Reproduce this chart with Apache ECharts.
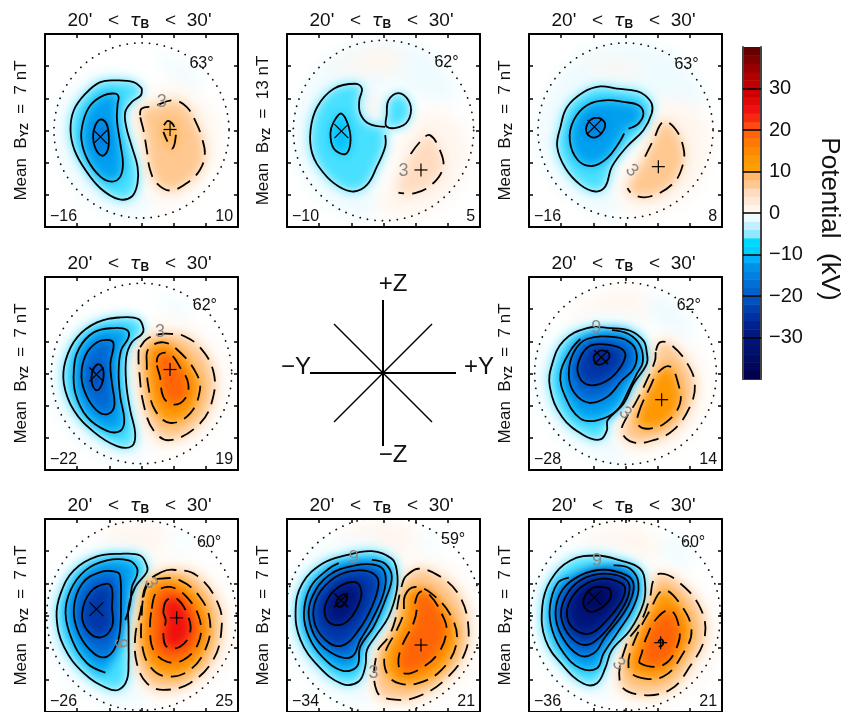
<!DOCTYPE html>
<html><head><meta charset="utf-8">
<style>html,body{margin:0;padding:0;background:#fff}#c{width:848px;height:712px}</style>
<script src="https://cdn.jsdelivr.net/npm/echarts@6/dist/echarts.min.js"></script>
</head><body><div id="c"></div>
<script>
const FONT = '"Liberation Sans"';
const titleText = "20'   <  {t|τ}{b|B}   <  30'";
const meanB = [7, 13, 7, 7, 7, 7, 7, 7];
const minLabels = [-16, -10, -16, -22, -28, -26, -34, -36];
const maxLabels = [10, 5, 8, 19, 14, 25, 21, 21];
const latLabels = [63, 62, 63, 62, 62, 60, 59, 60];
const latLabelAt = [[605,190],[605,187],[590,192],[615,193],[597,193],[628,185],[625,178],[610,185]];
const circleR = [264, 272, 264, 272, 274, 286, 296, 286];
const centers = [[424,391],[415,391],[406,391],[424,399],[406,399],[424,406],[415,406],[406,406]];
const minMarks = [[300,410],[288,393],[312,380],[288,402],[333,350],[288,387],[287,360],[312,352]];
const maxMarks = [[510,388],[528,510],[505,500],[510,387],[515,478],[530,413],[528,495],[512,488]];
const contourTags = [
  [['3',485,305,0]],
  [['3',475,512,0]],
  [['3',425,512,45]],
  [['3',480,275,0]],
  [['3',405,518,45],['9',318,262,0]],
  [['3',452,308,60],['9',360,490,90]],
  [['3',385,578,0],['9',325,232,0]],
  [['3',385,552,45],['9',320,243,0]]
];

const barColors = ['#00004f','#000659','#000c64','#00106e','#001478','#001880','#002090','#0030a0','#0040b0','#0050c0','#0060cc','#0070d8','#0080e0','#0090e8','#00b0f8','#00d0ff','#00d8ff','#90e8ff','#c0f0ff','#eefbff','#fff6ee','#ffe8d8','#ffdcc0','#ffc890','#ffb868','#ffa000','#ff9800','#ff8800','#ff7800','#ff6408','#ff4a10','#f82810','#f01010','#e00808','#d00000','#c00000','#b00000','#980000','#800000','#640000'];

// rings: v = level (kV), w = soft wash without a contour line, open = contour has a gap, p = x,y,x,y...
const p1 = [
 {v:-1,w:1,p:[465,175,520,170,590,230,610,285,570,270,500,210]},
 {v:-1,w:1,p:[430,270,400,230,340,215,270,230,205,285,170,370,175,460,220,550,290,620,370,650,440,640,450,590,430,510,410,440,395,370,420,310]},
 {v:1,w:1,p:[400,330,440,280,500,255,580,280,640,340,660,420,640,500,590,570,510,620,450,590,430,500,410,420]},
 {v:-3,p:[423,262,400,245,350,240,300,245,255,280,220,330,210,390,222,450,255,510,300,565,355,598,395,590,412,550,412,500,395,440,378,380,375,335,395,305,422,285,425,268]},
 {v:-9,p:[355,290,345,280,310,285,270,315,248,365,243,420,262,480,300,530,335,545,360,530,368,490,360,430,350,360,352,310]},
 {v:-15,p:[300,358,285,375,278,410,285,445,305,467,322,450,325,405,318,370]},
 {v:3,p:[420,345,425,325,460,318,520,300,560,320,590,370,605,410,615,460,600,510,560,550,510,572,470,550,450,510,440,450,430,390]},
 {v:9,open:1,p:[492,375,505,362,525,385,525,425,515,445,490,395]}
];
const p2 = [
 {v:-1,w:1,p:[145,400,170,290,240,190,330,130,430,125,540,150,620,240,640,300,560,300,480,260,420,240,400,300,420,370,440,440,400,530,380,650,300,640,210,570,160,490]},
 {v:1,w:1,p:[250,210,300,175,380,145,450,150,480,200,400,220,330,210]},
 {v:1,w:1,p:[430,530,470,420,530,340,590,330,660,390,670,460,640,560,560,630,440,650,400,620]},
 {v:3,w:1,p:[365,315,380,292,398,315,380,340]},
 {v:-3,open:1,p:[420,405,420,440,395,500,365,555,325,575,280,560,235,520,200,460,195,390,215,320,265,265,330,250,350,265,342,300,345,340,370,370,420,380]},
 {v:-3,p:[425,340,430,300,460,278,490,300,497,340,475,375,425,380]},
 {v:-9,p:[288,340,265,365,255,400,265,445,300,462,315,430,310,380]},
 {v:3,open:1,p:[497,462,530,420,555,405,585,450,595,500,565,550,510,580,460,578]}
];
const p3 = [
 {v:-1,w:1,p:[145,400,170,290,240,190,340,135,450,130,560,170,640,270,650,320,560,320,500,310,470,360,420,440,380,530,390,640,320,640,220,570,160,490]},
 {v:1,w:1,p:[385,530,440,450,510,310,590,310,655,370,660,440,620,560,520,630,430,640,390,600]},
 {v:1,w:1,p:[270,195,320,180,400,185,470,210,440,225,340,215]},
 {v:-3,p:[465,285,440,272,380,265,330,258,280,275,230,320,210,380,200,440,225,505,270,555,315,575,345,560,365,500,410,440,460,390,485,340,485,310]},
 {v:-9,open:1,p:[415,385,445,370,460,340,445,315,400,305,345,300,290,315,250,360,238,420,262,480,305,498,350,475,385,430,402,400]},
 {v:-15,p:[315,353,292,370,290,400,315,412,340,390,342,365]},
 {v:3,open:1,p:[465,470,490,420,520,365,555,385,580,440,580,490,550,550,480,590,430,585,412,565]}
];
const p4 = [
 {v:-1,w:1,p:[465,175,510,170,570,205,555,230,500,205]},
 {v:-1,w:1,p:[440,280,400,225,300,225,210,280,160,370,160,470,210,570,300,640,420,660,440,620,415,520,395,420,395,340]},
 {v:1,w:1,p:[400,330,440,260,520,240,620,290,670,380,670,480,620,570,520,630,440,610,420,520,400,430]},
 {v:-3,p:[430,265,415,235,360,230,290,245,230,290,195,360,190,430,220,510,280,575,350,618,395,618,405,580,390,510,378,430,378,350,395,305,425,280]},
 {v:-9,p:[385,290,380,268,340,262,280,275,235,325,220,390,225,460,260,530,320,572,360,572,372,540,360,470,355,400,362,330]},
 {v:-15,p:[340,310,325,298,290,305,255,345,243,410,260,470,295,515,325,520,342,495,335,430,330,370]},
 {v:-21,p:[290,372,275,395,275,430,290,450,305,430,310,395,302,375]},
 {v:3,p:[420,320,440,295,480,280,520,280,550,285,600,320,640,390,640,470,600,550,510,600,460,570,430,490,418,400,415,335]},
 {v:9,p:[440,370,445,325,490,305,540,335,590,400,600,450,570,520,510,548,465,510,445,440]},
 {v:15,p:[470,365,480,340,510,340,540,380,565,430,555,475,520,493,490,470,480,410]}
];
const p5 = [
 {v:-1,w:1,p:[460,170,530,170,600,240,610,300,530,270,470,220]},
 {v:1,w:1,p:[220,240,300,180,420,140,460,170,470,230,350,220]},
 {v:-1,w:1,p:[480,300,420,235,340,225,240,260,160,340,140,440,190,560,300,640,400,670,390,600,360,560,440,450,490,360]},
 {v:1,w:1,p:[380,560,450,450,490,310,530,280,620,340,650,430,620,550,540,620,440,640,390,620]},
 {v:-3,p:[470,335,460,300,420,270,360,262,290,262,220,300,185,370,178,440,215,530,280,585,330,598,350,570,352,540,400,490,430,430,470,370]},
 {v:-9,open:1,p:[365,268,415,280,450,315,458,365,440,400,420,440,380,510,320,540,270,535,225,470,210,400,240,330,270,295]},
 {v:-15,p:[290,295,250,335,235,400,250,455,295,487,350,470,395,420,430,385,440,345,425,310,380,290]},
 {v:-21,p:[300,315,270,350,262,395,285,430,330,430,375,400,405,350,395,325,350,312]},
 {v:-27,p:[325,333,310,350,322,372,350,360,357,340,340,330]},
 {v:3,p:[498,330,510,305,540,310,590,365,615,430,600,500,550,570,490,600,430,607,395,575,410,530,435,490,470,420,495,360]},
 {v:9,p:[445,520,480,440,505,395,540,378,565,430,570,490,530,545,480,565,445,555]}
];
const p6 = [
 {v:-1,w:1,p:[495,160,540,165,585,215,540,205]},
 {v:1,w:1,p:[300,155,400,125,490,135,500,175,440,230,330,190]},
 {v:-1,w:1,p:[450,260,410,205,320,195,220,240,150,330,140,440,170,540,250,630,340,670,420,680,430,620,400,520,395,400,415,320]},
 {v:1,w:1,p:[415,310,470,245,560,245,660,320,700,420,680,540,600,620,490,665,430,630,400,500,400,400]},
 {v:-3,p:[440,255,420,225,360,220,290,228,220,270,180,340,168,410,190,500,250,580,320,625,355,630,380,600,385,540,385,500,385,440,385,380,405,320,440,275]},
 {v:-9,open:1,p:[315,578,260,550,215,480,195,400,210,330,255,270,320,240,385,240,410,262,410,285,395,320,390,370,375,420]},
 {v:-15,p:[360,290,350,275,300,275,245,310,220,385,235,460,280,520,320,530,350,490,360,440,362,370]},
 {v:-21,p:[320,310,270,335,245,400,260,450,300,472,335,440,335,380,335,325]},
 {v:3,p:[485,275,520,268,590,285,655,370,665,450,640,540,570,610,490,630,440,610,410,550,405,470,420,400,440,310]},
 {v:9,p:[430,350,445,310,480,295,540,300,600,350,630,420,620,500,570,570,500,590,450,560,425,490,425,400]},
 {v:15,p:[455,385,470,335,510,320,560,350,600,420,595,490,550,540,500,545,460,510,450,450]},
 {v:21,p:[490,395,500,360,530,355,565,410,570,460,540,500,500,500,490,465,497,420]}
];
const p7 = [
 {v:-1,w:1,p:[510,165,550,165,585,210,550,220]},
 {v:1,w:1,p:[270,180,340,130,490,130,510,190,470,250,350,185]},
 {v:-1,w:1,p:[460,270,430,205,330,180,220,215,140,300,115,400,135,510,210,610,320,670,380,660,370,570,440,430,470,350]},
 {v:1,w:1,p:[380,580,430,450,460,310,510,240,610,260,690,370,700,500,640,610,520,680,400,680,370,630]},
 {v:-3,p:[455,270,440,235,380,212,300,225,230,250,170,310,150,390,165,480,220,560,290,612,340,605,360,560,365,510,390,470,430,410,455,330]},
 {v:-9,open:1,p:[380,238,420,250,440,290,420,360,385,440,345,500,335,560,290,572,230,530,190,470,175,400,195,320,250,265,280,248]},
 {v:-15,p:[420,280,395,255,330,255,250,285,200,350,190,410,215,480,270,525,320,530,345,480,380,420,415,340]},
 {v:-21,p:[385,280,340,270,270,290,215,350,205,420,240,480,290,497,340,450,380,380,400,310]},
 {v:-27,p:[325,305,280,320,245,360,240,410,270,435,310,420,345,360,345,320]},
 {v:-33,p:[295,342,272,365,280,380,298,370,305,350]},
 {v:3,p:[485,285,520,265,580,285,640,340,670,430,660,520,600,600,520,650,450,660,395,635,395,520,430,470,450,420,460,360,475,300]},
 {v:9,p:[480,345,510,320,560,340,620,410,635,490,590,570,520,610,460,610,425,580,420,520,455,450,475,400]},
 {v:15,p:[510,370,525,335,555,345,590,400,605,450,580,520,520,570,475,580,460,550,470,500,505,430,515,390]}
];
const p8 = [
 {v:-1,w:1,p:[500,170,560,175,610,240,590,265,520,220]},
 {v:1,w:1,p:[270,190,340,145,470,145,500,200,490,250,400,215]},
 {v:-1,w:1,p:[480,310,440,240,340,200,230,215,150,290,125,400,150,510,230,610,340,660,370,640,360,560,450,420]},
 {v:1,w:1,p:[370,570,460,420,490,290,520,260,620,320,680,420,670,530,590,630,470,680,390,660]},
 {v:-3,p:[465,310,450,265,390,240,320,225,240,240,180,300,155,380,165,480,220,560,280,612,320,610,345,565,365,510,420,450,460,370]},
 {v:-9,open:1,p:[370,255,420,265,445,310,430,380,380,460,340,520,320,565,270,565,220,520,185,450,178,380,200,310,235,292]},
 {v:-15,p:[430,310,410,285,340,268,270,285,215,330,195,400,215,470,265,525,310,520,345,470,400,400,425,350]},
 {v:-21,p:[410,300,340,280,270,300,225,350,212,410,240,470,285,495,330,470,380,410,415,345]},
 {v:-27,p:[395,310,340,295,280,315,240,360,230,410,255,450,300,460,350,420,390,370,405,330]},
 {v:-33,p:[350,322,310,322,285,345,280,375,300,395,330,385,360,355,360,330]},
 {v:3,p:[510,280,560,300,630,380,645,470,600,560,540,630,450,645,390,610,410,490,450,430,480,350,490,300]},
 {v:9,p:[440,590,520,590,580,520,605,450,570,370,520,330,480,390,430,490,415,560]},
 {v:15,p:[450,550,520,555,565,490,565,430,540,390,500,415,470,470,455,520]},
 {v:21,p:[505,485,515,478,520,490,510,500]}
];
const panels = [p1,p2,p3,p4,p5,p6,p7,p8];

const spokes = [[[-73,0],[73,0]],[[0,-73],[0,73]],[[-49,-49],[49,49]],[[-49,49],[49,-49]]];
const spokeLabels = [['+Z',10,89],['\u2212Z',10,-82],['\u2212Y',-87,6],['+Y',96,6]];

const gridX = [45, 287, 529], gridY = [34, 277, 519], gridW = 193, gridH = 193;
const panelCells = [[0,0],[1,0],[2,0],[0,1],[2,1],[0,2],[1,2],[2,2]];
const OFF = 3000;

function levelColor(v){
  const t = Math.max(0, Math.min(barColors.length-1, (v+40)/2-0.5));
  const i = Math.floor(t), f = t-i, a = barColors[i], b = barColors[Math.min(i+1,barColors.length-1)];
  const c = k => Math.round(parseInt(a.substr(k,2),16)*(1-f)+parseInt(b.substr(k,2),16)*f);
  return 'rgb('+c(1)+','+c(3)+','+c(5)+')';
}
function minus(n){ return String(n).replace('-','\u2212'); }

const grids=[],xAxes=[],yAxes=[],series=[],titles=[];
const axisBase = {type:'value',min:-291,max:291,interval:97,
  axisLine:{show:true,onZero:false,lineStyle:{color:'#000',width:2}},
  axisTick:{show:true,inside:true,length:4,lineStyle:{color:'#000',width:1.5}},
  axisLabel:{show:false},splitLine:{show:false},z:6};

panelCells.forEach((cell,k)=>{
  const L=gridX[cell[0]],T=gridY[cell[1]];
  grids.push({left:L,top:T,width:gridW,height:gridH});
  xAxes.push(Object.assign({},axisBase,{gridIndex:k,position:'bottom'}),Object.assign({},axisBase,{gridIndex:k,position:'top'}));
  yAxes.push(Object.assign({},axisBase,{gridIndex:k,position:'left',name:'Mean  B{s|YZ}  =  '+meanB[k]+' nT',nameLocation:'middle',nameRotate:90,nameGap:15,
      nameTextStyle:{fontFamily:FONT,fontSize:17,color:'#111',rich:{s:{fontFamily:FONT,fontSize:11,fontWeight:'bold',color:'#111',padding:[7,0,0,0]}}}}),
    Object.assign({},axisBase,{gridIndex:k,position:'right'}));
  titles.push({text:titleText,left:L+gridW/2-2,top:T-23,textAlign:'center',padding:0,
    textStyle:{fontFamily:FONT,fontSize:19,fontWeight:'normal',color:'#111',rich:{t:{fontFamily:'"DejaVu Sans"',fontSize:18,fontStyle:'italic',color:'#111'},b:{fontFamily:FONT,fontSize:12,fontWeight:'bold',color:'#111',padding:[8,0,0,0]}}}});

  const c=centers[k], ext=[minLabels[k],maxLabels[k]];
  const X=x=>x-c[0], Y=y=>c[1]-y;
  const rings=panels[k];
  const items=[];
  rings.forEach(r=>items.push({t:'fill',r}));
  rings.filter(r=>!r.w).forEach(r=>items.push({t:'line',r}));
  items.push({t:'circle'},{t:'mark',at:minMarks[k],cross:1},{t:'mark',at:maxMarks[k],cross:0});
  contourTags[k].forEach(g=>items.push({t:'tag',g}));
  items.push({t:'corner',text:minus(minLabels[k]),x:-276,y:-259,align:'left'},
             {t:'corner',text:String(maxLabels[k]),x:276,y:-259,align:'right'},
             {t:'corner',text:latLabels[k]+'\u00b0',x:X(latLabelAt[k][0]),y:Y(latLabelAt[k][1]),align:'center'});
  series.push({type:'custom',xAxisIndex:2*k,yAxisIndex:2*k,clip:true,silent:true,
    data:items.map((_,i)=>[i,0]),
    renderItem:(params,api)=>{
      const it=items[params.dataIndex];
      const pts=r=>{const o=[];for(let i=0;i<r.p.length;i+=2)o.push(api.coord([X(r.p[i]),Y(r.p[i+1])]));return o;};
      if(it.t==='fill'){
        const r=it.r;
        const pad=r.v<0?3:4;
        const target=r.w?r.v:Math.max(ext[0],Math.min(ext[1],r.v+Math.sign(r.v)*pad));
        return {type:'polygon',shape:{points:pts(r).map(q=>[q[0]-OFF,q[1]]),smooth:0.4},
          style:{fill:'#000',stroke:null,shadowColor:levelColor(target),shadowBlur:r.w?18:11,shadowOffsetX:OFF}};
      }
      if(it.t==='line'){
        const r=it.r, neg=r.v<0;
        return {type:r.open?'polyline':'polygon',shape:{points:pts(r),smooth:0.4},
          style:{fill:null,stroke:'#000',lineWidth:1.8,lineDash:neg?null:[15,8]}};
      }
      if(it.t==='circle'){
        const o=api.coord([0,0]),R=api.size([circleR[k],0])[0];
        return {type:'circle',shape:{cx:o[0],cy:o[1],r:R},style:{fill:null,stroke:'#111',lineWidth:1.8,lineCap:'round',lineDash:[0.1,7.4]}};
      }
      if(it.t==='mark'){
        const o=api.coord([X(it.at[0]),Y(it.at[1])]),s=it.cross?7:6.5;
        const seg=it.cross?[[-s,-s,s,s],[-s,s,s,-s]]:[[-s,0,s,0],[0,-s,0,s]];
        return {type:'group',children:seg.map(q=>({type:'line',shape:{x1:o[0]+q[0],y1:o[1]+q[1],x2:o[0]+q[2],y2:o[1]+q[3]},style:{stroke:'#000',lineWidth:1.2}}))};
      }
      if(it.t==='tag'){
        const g=it.g,o=api.coord([X(g[1]),Y(g[2])]);
        return {type:'text',x:o[0],y:o[1],rotation:-g[3]*Math.PI/180,style:{text:g[0],fill:'#888',font:'18px '+FONT,align:'center',verticalAlign:'middle'}};
      }
      const o=api.coord([it.x,it.y]);
      return {type:'text',style:{x:o[0],y:o[1],text:it.text,fill:'#111',font:'16px '+FONT,align:it.align,verticalAlign:'middle'}};
    }});
});

// compass
const ci=grids.length;
grids.push({left:283,top:273,width:200,height:200});
xAxes.push({type:'value',gridIndex:ci,min:-100,max:100,show:false});
yAxes.push({type:'value',gridIndex:ci,min:-100,max:100,show:false});
const xci=xAxes.length-1,yci=yAxes.length-1;
spokes.forEach((s,i)=>series.push({type:'line',xAxisIndex:xci,yAxisIndex:yci,data:s,showSymbol:false,silent:true,lineStyle:{color:'#000',width:i<2?2:1.4,cap:'butt'}}));
series.push({type:'custom',xAxisIndex:xci,yAxisIndex:yci,silent:true,data:spokeLabels.map((_,i)=>[i,0]),
  renderItem:(p,api)=>{const s=spokeLabels[p.dataIndex],o=api.coord([s[1],s[2]]);
    return {type:'text',style:{x:o[0],y:o[1],text:s[0],fill:'#111',font:'24px '+FONT,align:'center',verticalAlign:'middle'}};}});

// colour bar
const bi=grids.length;
grids.push({left:743,top:47,width:18,height:332});
xAxes.push({type:'value',gridIndex:bi,min:0,max:1,axisLine:{show:true,onZero:false,lineStyle:{color:'#333',width:1}},axisTick:{show:false},axisLabel:{show:false},splitLine:{show:false}});
yAxes.push({type:'value',gridIndex:bi,min:-40,max:40,interval:10,position:'right',z:6,
  axisLine:{show:true,onZero:false,lineStyle:{color:'#444',width:2}},
  axisTick:{show:true,inside:true,length:18,lineStyle:{color:'#000',width:1.5}},
  axisLabel:{fontFamily:FONT,fontSize:20,color:'#111',margin:8,showMinLabel:false,showMaxLabel:false,formatter:v=>minus(v)},
  splitLine:{show:false},
  name:'Potential  (kV)',nameLocation:'middle',nameRotate:-90,nameGap:55,nameTextStyle:{fontFamily:FONT,fontSize:26,color:'#111',padding:[0,0,0,12]}});
yAxes.push({type:'value',gridIndex:bi,min:-40,max:40,interval:10,position:'left',z:6,axisLine:{show:true,onZero:false,lineStyle:{color:'#444',width:2}},axisTick:{show:false},axisLabel:{show:false},splitLine:{show:false}});
series.push({type:'custom',xAxisIndex:xAxes.length-1,yAxisIndex:yAxes.length-2,silent:true,clip:true,
  data:barColors.map((_,i)=>[i,-40+2*i]),
  renderItem:(p,api)=>{const v=-40+2*p.dataIndex,a=api.coord([0,v+2]),b=api.coord([1,v]);
    return {type:'rect',shape:{x:a[0],y:a[1],width:b[0]-a[0],height:b[1]-a[1]+0.5},style:{fill:barColors[p.dataIndex]}};}});

const chart=echarts.init(document.getElementById('c'),null,{renderer:'canvas'});
chart.setOption({animation:false,backgroundColor:'#fff',title:titles,grid:grids,xAxis:xAxes,yAxis:yAxes,series});
</script></body></html>
